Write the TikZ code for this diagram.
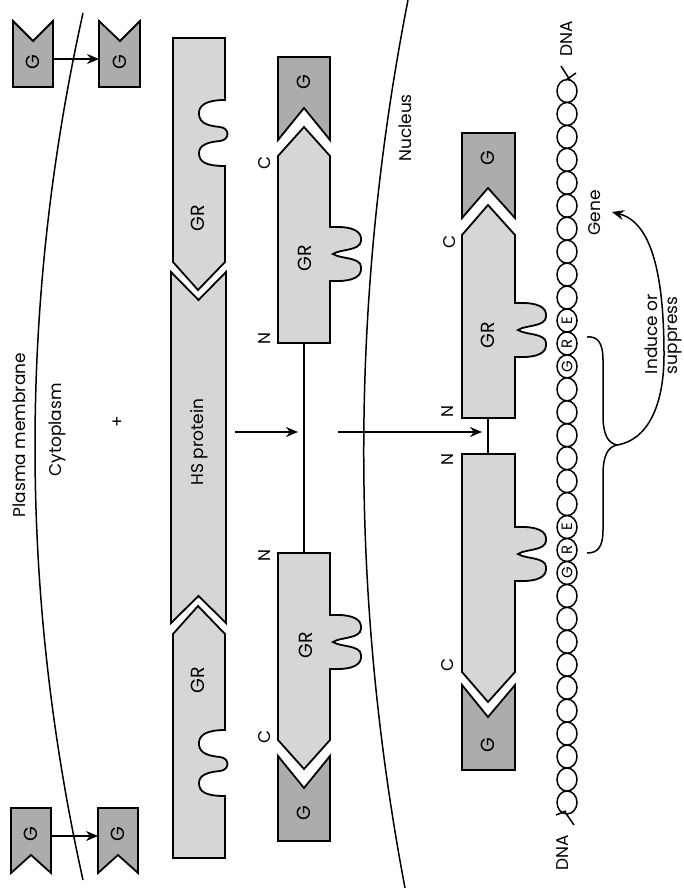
\documentclass[tikz,border=0pt]{standalone}
\usepackage{fontspec}
\setmainfont{Poppins}
\usetikzlibrary{arrows.meta}
\definecolor{grlight}{RGB}{214,214,214}
\definecolor{gdark}{RGB}{172,172,172}
% two protruding fingers, traversed downward from (x0,y0) to (x0,y0+54)
\newcommand{\fingersat}[2]{.. controls ({#1+25},{#2-1}) and ({#1+32},{#2+5}) .. ({#1+31},{#2+14}) .. controls ({#1+30},{#2+24}) and ({#1+10},{#2+22}) .. ({#1+3},{#2+27}) .. controls ({#1+10},{#2+32}) and ({#1+31},{#2+30}) .. ({#1+31},{#2+40}) .. controls ({#1+32},{#2+49}) and ({#1+25},{#2+55}) .. ({#1},{#2+54})}
% two slots cut in, traversed downward from (x0,y0) to (x0,y0+66)
\newcommand{\slotsat}[2]{.. controls ({#1-20},{#2}) and ({#1-27},{#2+6}) .. ({#1-26},{#2+15}) .. controls ({#1-25},{#2+24}) and ({#1-15},{#2+26}) .. ({#1-5},{#2+27}) .. controls ({#1+5},{#2+28}) and ({#1+5},{#2+40}) .. ({#1-5},{#2+41}) .. controls ({#1-17},{#2+42}) and ({#1-26},{#2+45}) .. ({#1-26},{#2+53}) .. controls ({#1-26},{#2+62}) and ({#1-19},{#2+66}) .. ({#1},{#2+66})}
\begin{document}
\begin{tikzpicture}[x=1pt,y=-1pt,
  shp/.style={draw=black,line width=1.8pt,line join=miter},
  grbox/.style={shp,fill=grlight},
  gbox/.style={shp,fill=gdark},
  curve/.style={draw=black,line width=1.5pt},
  lbl/.style={rotate=90,font=\fontsize{17}{20}\selectfont,inner sep=0pt},
  biglbl/.style={rotate=90,font=\fontsize{19}{22}\selectfont,inner sep=0pt},
  small/.style={rotate=90,font=\fontsize{15}{17}\selectfont,inner sep=0pt},
  arr/.style={line width=1.5pt,-{Stealth[length=12pt,width=10pt]}},
  dnacirc/.style={draw=black,line width=1.5pt,fill=white}]
\useasboundingbox (0,0) rectangle (684,888);
\fill[white] (0,0) rectangle (684,888);

% membranes
\draw[curve] (83,13) .. controls (19,302) and (19,591) .. (83,880);
\draw[curve] (408,0) .. controls (350,296) and (349,592) .. (405,888);

% ligands G outside
\draw[gbox] (13,21) -- (33,41) -- (53,21) -- (53,87) -- (13,87) -- cycle;
\draw[gbox] (99,21) -- (120,41) -- (140,21) -- (140,87) -- (99,87) -- cycle;
\draw[gbox] (11,808) -- (51,808) -- (51,873) -- (31,855) -- (11,873) -- cycle;
\draw[gbox] (98,808) -- (138,808) -- (138,873) -- (118,855) -- (98,873) -- cycle;
\node[biglbl] (g1) at (33,62) {G};
\node[biglbl] (g2) at (120,62) {G};
\node[biglbl] (g3) at (31,834) {G};
\node[biglbl] (g4) at (118,834) {G};
\coordinate (a1s) at (53,59); \coordinate (a1e) at (99,59);
\coordinate (a2s) at (51,836); \coordinate (a2e) at (98,836);
\draw[arr] (a1s) -- (a1e);
\draw[arr] (a2s) -- (a2e);

% left column: GR - HS protein - GR
\draw[grbox] (173,38) -- (225,38) -- (225,100) \slotsat{225}{100} -- (225,262) -- (198,290) -- (173,262) -- cycle;
\draw[grbox] (198,606) -- (225,634) -- (225,730) \slotsat{225}{730} -- (225,858) -- (173,858) -- (173,634) -- cycle;
\draw[grbox] (171,272) -- (198.5,300) -- (226,272) -- (226,623) -- (198.5,596) -- (171,623) -- cycle;
\node[biglbl] (grl1) at (198,218) {GR};
\node[biglbl] (grl2) at (198,680) {GR};
\node[lbl] (hs) at (199,442) {HS protein};

% middle column
\draw[gbox] (278,57) -- (330,57) -- (330,140) -- (304,108) -- (278,140) -- cycle;
\draw[grbox] (304,127) -- (330,156) -- (330,227) \fingersat{330}{227} -- (330,343) -- (278,343) -- (278,156) -- cycle;
\draw[grbox] (278,553) -- (330,553) -- (330,615) \fingersat{330}{615} -- (330,740) -- (304,769) -- (278,740) -- cycle;
\draw[gbox] (278,756) -- (304,788) -- (330,756) -- (330,841) -- (278,841) -- cycle;
\coordinate (m1) at (304,343); \coordinate (m2) at (304,553);
\draw[curve] (m1) -- (m2);
\node[biglbl] (gm1) at (304,82) {G};
\node[biglbl] (gm2) at (304,813) {G};
\node[biglbl] (grm1) at (305,258) {GR};
\node[biglbl] (grm2) at (306,645) {GR};
\node[lbl] (cm1) at (265,163) {C};
\node[lbl] (nm1) at (265,339) {N};
\node[lbl] (nm2) at (265,556) {N};
\node[lbl] (cm2) at (265,737) {C};

% right column (nucleus)
\draw[gbox] (462,133) -- (515,133) -- (515,218) -- (488,188) -- (462,218) -- cycle;
\draw[grbox] (488,205) -- (515,235) -- (515,303) \fingersat{515}{303} -- (515,418) -- (462,418) -- (462,235) -- cycle;
\draw[grbox] (462,454) -- (515,454) -- (515,527) \fingersat{515}{527} -- (515,672) -- (488,702) -- (462,672) -- cycle;
\draw[gbox] (462,685) -- (488,717) -- (515,685) -- (515,770) -- (462,770) -- cycle;
\coordinate (r1) at (488,418); \coordinate (r2) at (488,454);
\draw[curve] (r1) -- (r2);
\node[biglbl] (gr1) at (488,158) {G};
\node[biglbl] (gr2) at (488,745) {G};
\node[biglbl] (grr1) at (488,335) {GR};
\node[lbl] (cr1) at (450,242) {C};
\node[lbl] (nr1) at (448,412) {N};
\node[lbl] (nr2) at (448,460) {N};
\node[lbl] (cr2) at (448,665) {C};

% arrows into the nucleus
\coordinate (b1s) at (235,432); \coordinate (b1e) at (298,432);
\coordinate (b2s) at (338,432); \coordinate (b2e) at (482,432);
\draw[arr] (b1s) -- (b1e);
\draw[arr] (b2s) -- (b2e);

% DNA
\foreach \k in {0,...,31} {
  \draw[dnacirc] (567,{91+22.95*\k}) ellipse [x radius=10, y radius=11.5];
}
\draw[curve] (561,66) -- (570,80);
\draw[curve] (566,80) -- (576,73);
\draw[curve] (556,815) -- (566,811);
\draw[curve] (565,812) -- (574,825);
\node[small] (e1) at (567,{91+22.95*10}) {E};
\node[small] (r1t) at (567,{91+22.95*11}) {R};
\node[small] (g1t) at (567,{91+22.95*12}) {G};
\node[small] (e2) at (567,{91+22.95*19}) {E};
\node[small] (r2t) at (567,{91+22.95*20}) {R};
\node[small] (g2t) at (567,{91+22.95*21}) {G};
\node[lbl] (dna1) at (567,39) {DNA};
\node[lbl] (dna2) at (563,853) {DNA};

% brace and arrow
\coordinate (tip) at (617,445);
\draw[curve] (587,337) .. controls (597,336) and (603,342) .. (603,360) -- (603,415) .. controls (603,435) and (608,443) .. (tip) .. controls (608,447) and (603,455) .. (603,475) -- (603,530) .. controls (603,548) and (597,553) .. (587,553);
\coordinate (geneend) at (612,212);
\draw[arr] (tip) .. controls (648,440) and (664,405) .. (664,355) .. controls (664,270) and (650,222) .. (geneend);

% labels
\node[lbl] (pm) at (19,435) {Plasma membrane};
\node[lbl] (cyto) at (57,430) {Cytoplasm};
\node[lbl] (plus) at (118,422) {+};
\node[lbl] (nuc) at (405,128) {Nucleus};
\node[lbl] (gene) at (595,213) {Gene};
\node[lbl,align=left] (ind) at (663,334) {Induce or\\suppress};
\end{tikzpicture}
\end{document}
